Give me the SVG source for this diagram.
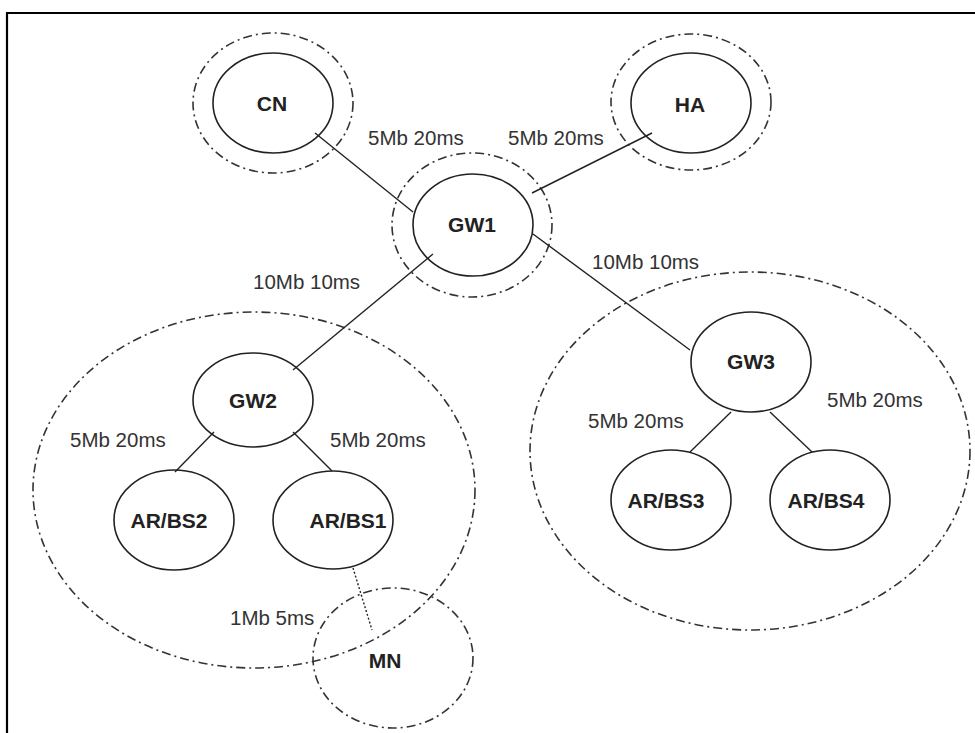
<svg xmlns="http://www.w3.org/2000/svg" width="975" height="733" viewBox="0 0 975 733">
<style>
.node{fill:none;stroke:#222;stroke-width:1.6}
.zone{fill:none;stroke:#333;stroke-width:1.6;stroke-dasharray:9 4 2 4}
.link{stroke:#222;stroke-width:1.4;fill:none}
.dot{stroke:#222;stroke-width:1.4;stroke-dasharray:2 2;fill:none}
.lbl{font-family:"Liberation Sans",Arial,sans-serif;font-size:20.5px;fill:#333}
.nl{font-family:"Liberation Sans",Arial,sans-serif;font-size:21px;font-weight:bold;fill:#222;text-anchor:middle;dominant-baseline:central}
</style>
<rect width="975" height="733" fill="#fff"/>
<path d="M7 733 V13 H975" fill="none" stroke="#000" stroke-width="2.2"/>
<g id="zones">
<ellipse class="zone" cx="273" cy="103" rx="80" ry="70"/>
<ellipse class="zone" cx="691" cy="102" rx="80" ry="68"/>
<ellipse class="zone" cx="472" cy="225" rx="80" ry="72"/>
<ellipse class="zone" cx="254" cy="490" rx="221" ry="178"/>
<ellipse class="zone" cx="750" cy="451" rx="220" ry="179"/>
<ellipse class="zone" cx="393" cy="658" rx="80" ry="70"/>
</g>
<g id="connectors">
<line class="link" x1="315" y1="133" x2="413" y2="212"/>
<line class="link" x1="652" y1="133" x2="532" y2="193"/>
<line class="link" x1="433" y1="254" x2="293" y2="370"/>
<line class="link" x1="533" y1="234" x2="690" y2="350"/>
<line class="link" x1="214" y1="432" x2="175" y2="472"/>
<line class="link" x1="293" y1="432" x2="332" y2="471"/>
<line class="link" x1="731" y1="412" x2="690" y2="452"/>
<line class="link" x1="770" y1="412" x2="812" y2="452"/>
<line class="dot" x1="353" y1="568" x2="372" y2="630"/>
</g>
<g id="labels">
<text class="lbl" x="368" y="145">5Mb 20ms</text>
<text class="lbl" x="508" y="145">5Mb 20ms</text>
<text class="lbl" x="253" y="289">10Mb 10ms</text>
<text class="lbl" x="592" y="269">10Mb 10ms</text>
<text class="lbl" x="70" y="447">5Mb 20ms</text>
<text class="lbl" x="330" y="447">5Mb 20ms</text>
<text class="lbl" x="588" y="428">5Mb 20ms</text>
<text class="lbl" x="827" y="407">5Mb 20ms</text>
<text class="lbl" x="230" y="625">1Mb 5ms</text>
</g>
<g id="CN"><ellipse class="node" cx="273" cy="103" rx="60" ry="50"/><text class="nl" x="272" y="103">CN</text></g>
<g id="HA"><ellipse class="node" cx="691" cy="103" rx="60" ry="50"/><text class="nl" x="690" y="104">HA</text></g>
<g id="GW1"><ellipse class="node" cx="473" cy="225" rx="60" ry="51"/><text class="nl" x="472" y="224">GW1</text></g>
<g id="GW2"><ellipse class="node" cx="253" cy="400" rx="60" ry="47"/><text class="nl" x="253" y="400">GW2</text></g>
<g id="GW3"><ellipse class="node" cx="751" cy="362" rx="60" ry="50"/><text class="nl" x="751" y="361">GW3</text></g>
<g id="ARBS2"><ellipse class="node" cx="174" cy="520" rx="60" ry="50"/><text class="nl" x="169" y="520">AR/BS2</text></g>
<g id="ARBS1"><ellipse class="node" cx="333" cy="520" rx="60" ry="49"/><text class="nl" x="348" y="520">AR/BS1</text></g>
<g id="ARBS3"><ellipse class="node" cx="671" cy="500" rx="60" ry="50"/><text class="nl" x="666" y="500">AR/BS3</text></g>
<g id="ARBS4"><ellipse class="node" cx="830" cy="500" rx="60" ry="50"/><text class="nl" x="826" y="500">AR/BS4</text></g>
<g id="MN"><text class="nl" x="385" y="660">MN</text></g>
</svg>
